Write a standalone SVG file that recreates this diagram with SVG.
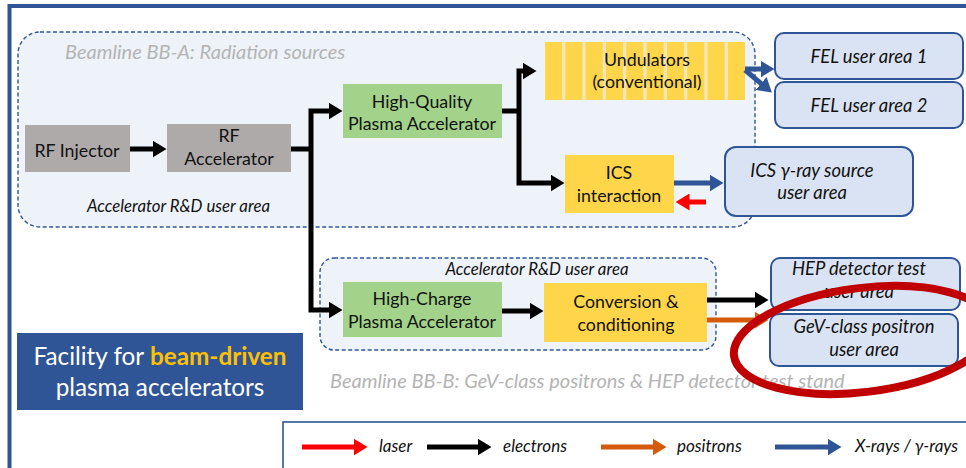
<svg xmlns="http://www.w3.org/2000/svg" width="966" height="468" viewBox="0 0 966 468">
  <style>
    text { font-family: Lato, "Noto Sans", "Liberation Sans", sans-serif; }
    .node { font-size: 17.8px; fill: #111; text-anchor: middle; }
    .user { font-size: 18.4px; font-style: italic; fill: #111; text-anchor: middle; }
    .area { font-size: 16.8px; font-style: italic; fill: #111; }
    .beamline { font-size: 20px; font-style: italic; fill: #b4b4b4; }
    .legend { font-size: 17px; font-style: italic; fill: #111; }
    .zone { fill: #eef2f9; stroke: #2f5597; stroke-width: 1.4; stroke-dasharray: 4 2.5; }
    .gray { fill: #aeaaaa; }
    .green { fill: #a3d38b; }
    .yellow { fill: #ffd54a; }
    .userbox { fill: #dae3f3; stroke: #2f5597; stroke-width: 2; }
    .e { fill: none; stroke: #000; stroke-width: 5; marker-end: url(#headK); }
    .eline { fill: none; stroke: #000; stroke-width: 5; }
    .x { fill: none; stroke: #2f5597; stroke-width: 5; marker-end: url(#headB); }
    .l { fill: none; stroke: #ff0000; stroke-width: 5; marker-end: url(#headR); }
    .p { fill: none; stroke: #d55a0c; stroke-width: 5; marker-end: url(#headO); }
  </style>
  <defs>
    <marker id="headK" markerUnits="userSpaceOnUse" markerWidth="14" markerHeight="17" refX="0.5" refY="8.5" orient="auto">
      <path d="M0,0 L14,8.5 L0,17 Z" fill="#000"/>
    </marker>
    <marker id="headB" markerUnits="userSpaceOnUse" markerWidth="14" markerHeight="17" refX="0.5" refY="8.5" orient="auto">
      <path d="M0,0 L14,8.5 L0,17 Z" fill="#2f5597"/>
    </marker>
    <marker id="headR" markerUnits="userSpaceOnUse" markerWidth="14" markerHeight="17" refX="0.5" refY="8.5" orient="auto">
      <path d="M0,0 L14,8.5 L0,17 Z" fill="#ff0000"/>
    </marker>
    <marker id="headO" markerUnits="userSpaceOnUse" markerWidth="14" markerHeight="17" refX="0.5" refY="8.5" orient="auto">
      <path d="M0,0 L14,8.5 L0,17 Z" fill="#d55a0c"/>
    </marker>
  </defs>

  <rect x="0" y="0" width="966" height="468" fill="#ffffff"/>

  <!-- outer frame -->
  <path d="M9.5,468 V6 H966" fill="none" stroke="#2f5597" stroke-width="4"/>

  <!-- beamline zones -->
  <g id="zone-bba">
    <rect class="zone" x="18" y="32" width="737" height="195" rx="22"/>
    <text class="beamline" x="65" y="59">Beamline BB-A: Radiation sources</text>
    <text class="area" x="87" y="212">Accelerator R&amp;D user area</text>
  </g>
  <g id="zone-bbb">
    <rect class="zone" x="320" y="258" width="396" height="92" rx="14"/>
    <text class="area" x="537" y="275" text-anchor="middle">Accelerator R&amp;D user area</text>
    <text class="beamline" x="330" y="388">Beamline BB-B: GeV-class positrons &amp; HEP detector test stand</text>
  </g>

  <!-- accelerator chain -->
  <g id="rf-injector">
    <rect class="gray" x="25" y="125" width="105" height="47"/>
    <text class="node" x="77" y="157">RF Injector</text>
  </g>
  <g id="rf-accelerator">
    <rect class="gray" x="167" y="124" width="124" height="48"/>
    <text class="node" x="229" y="142">RF</text>
    <text class="node" x="229" y="165">Accelerator</text>
  </g>
  <g id="hq-plasma">
    <rect class="green" x="343" y="84" width="159" height="54"/>
    <text class="node" x="422" y="108">High-Quality</text>
    <text class="node" x="422" y="130">Plasma Accelerator</text>
  </g>
  <g id="undulators">
    <rect x="545" y="42" width="200" height="58" fill="#f6e7b2"/>
    <rect class="yellow" x="545" y="42" width="17" height="58"/>
    <rect class="yellow" x="565.3" y="42" width="17" height="58"/>
    <rect class="yellow" x="585.7" y="42" width="17" height="58"/>
    <rect class="yellow" x="606" y="42" width="17" height="58"/>
    <rect class="yellow" x="626.3" y="42" width="17" height="58"/>
    <rect class="yellow" x="646.7" y="42" width="17" height="58"/>
    <rect class="yellow" x="667" y="42" width="17" height="58"/>
    <rect class="yellow" x="687.3" y="42" width="17" height="58"/>
    <rect class="yellow" x="707.7" y="42" width="17" height="58"/>
    <rect class="yellow" x="728" y="42" width="17" height="58"/>
    <text class="node" x="647" y="66">Undulators</text>
    <text class="node" x="647" y="88">(conventional)</text>
  </g>
  <g id="ics-interaction">
    <rect class="yellow" x="565" y="155" width="109" height="58"/>
    <text class="node" x="619" y="179">ICS</text>
    <text class="node" x="619" y="202">interaction</text>
  </g>
  <g id="hc-plasma">
    <rect class="green" x="343" y="282" width="159" height="55"/>
    <text class="node" x="422" y="305">High-Charge</text>
    <text class="node" x="422" y="328">Plasma Accelerator</text>
  </g>
  <g id="conversion">
    <rect class="yellow" x="544" y="283" width="163" height="59"/>
    <text class="node" x="626" y="308">Conversion &amp;</text>
    <text class="node" x="626" y="331">conditioning</text>
  </g>

  <!-- user areas -->
  <g id="fel-1">
    <rect class="userbox" x="775" y="33" width="188" height="46" rx="9"/>
    <text class="user" x="869" y="63">FEL user area 1</text>
  </g>
  <g id="fel-2">
    <rect class="userbox" x="775" y="82" width="188" height="46" rx="9"/>
    <text class="user" x="869" y="112">FEL user area 2</text>
  </g>
  <g id="ics-user">
    <rect class="userbox" x="725" y="147" width="188" height="69" rx="11"/>
    <text class="user" x="812" y="177">ICS γ-ray source</text>
    <text class="user" x="812" y="199">user area</text>
  </g>
  <g id="hep-user">
    <rect class="userbox" x="771" y="258" width="189" height="52" rx="9"/>
    <text class="user" x="859" y="275">HEP detector test</text>
    <text class="user" x="859" y="298">user area</text>
  </g>
  <g id="positron-user">
    <rect class="userbox" x="770" y="314" width="188" height="52" rx="9"/>
    <text class="user" x="864" y="333">GeV-class positron</text>
    <text class="user" x="864" y="356">user area</text>
  </g>

  <!-- beam transport -->
  <g id="connectors">
    <path class="e" d="M130,149 H153"/>
    <path class="eline" d="M291,149 H313"/>
    <path class="e" d="M311,149 V111 H329"/>
    <path class="e" d="M311,149 V310 H329"/>
    <path class="eline" d="M502,111 H521"/>
    <path class="e" d="M519,111 V71 H523"/>
    <path class="e" d="M519,111 V183 H551"/>
    <path class="x" d="M674,183 H710"/>
    <path class="l" d="M706,202 H689"/>
    <path class="e" d="M502,311 H530"/>
    <path class="e" d="M707,300 H755"/>
    <path class="p" d="M707,320 H755"/>
    <path class="x" d="M745,69 H761"/>
    <path class="x" d="M745,70 L761.5,83.8"/>
  </g>

  <!-- facility label -->
  <g id="facility-label">
    <rect x="17" y="333" width="286" height="77" fill="#2f5597"/>
    <text x="160" y="365" font-size="24.3" fill="#ffffff" text-anchor="middle">Facility for <tspan font-weight="bold" fill="#ffc000">beam-driven</tspan></text>
    <text x="160" y="396" font-size="24.3" fill="#ffffff" text-anchor="middle">plasma accelerators</text>
  </g>

  <!-- highlight ring -->
  <ellipse id="highlight" cx="863" cy="340" rx="130" ry="52" transform="rotate(-7 863 340)" fill="none" stroke="#c00000" stroke-width="8"/>

  <!-- legend -->
  <g id="legend">
    <rect x="283" y="422" width="700" height="60" fill="#ffffff" stroke="#2f5597" stroke-width="1.6"/>
    <path class="l" d="M302,447 H354"/>
    <text class="legend" x="379" y="452">laser</text>
    <path class="e" d="M427,447 H478"/>
    <text class="legend" x="503" y="452">electrons</text>
    <path class="p" d="M601,447 H653"/>
    <text class="legend" x="677" y="452">positrons</text>
    <path class="x" d="M775,447 H828"/>
    <text class="legend" x="855" y="452">X-rays / γ-rays</text>
  </g>
</svg>
